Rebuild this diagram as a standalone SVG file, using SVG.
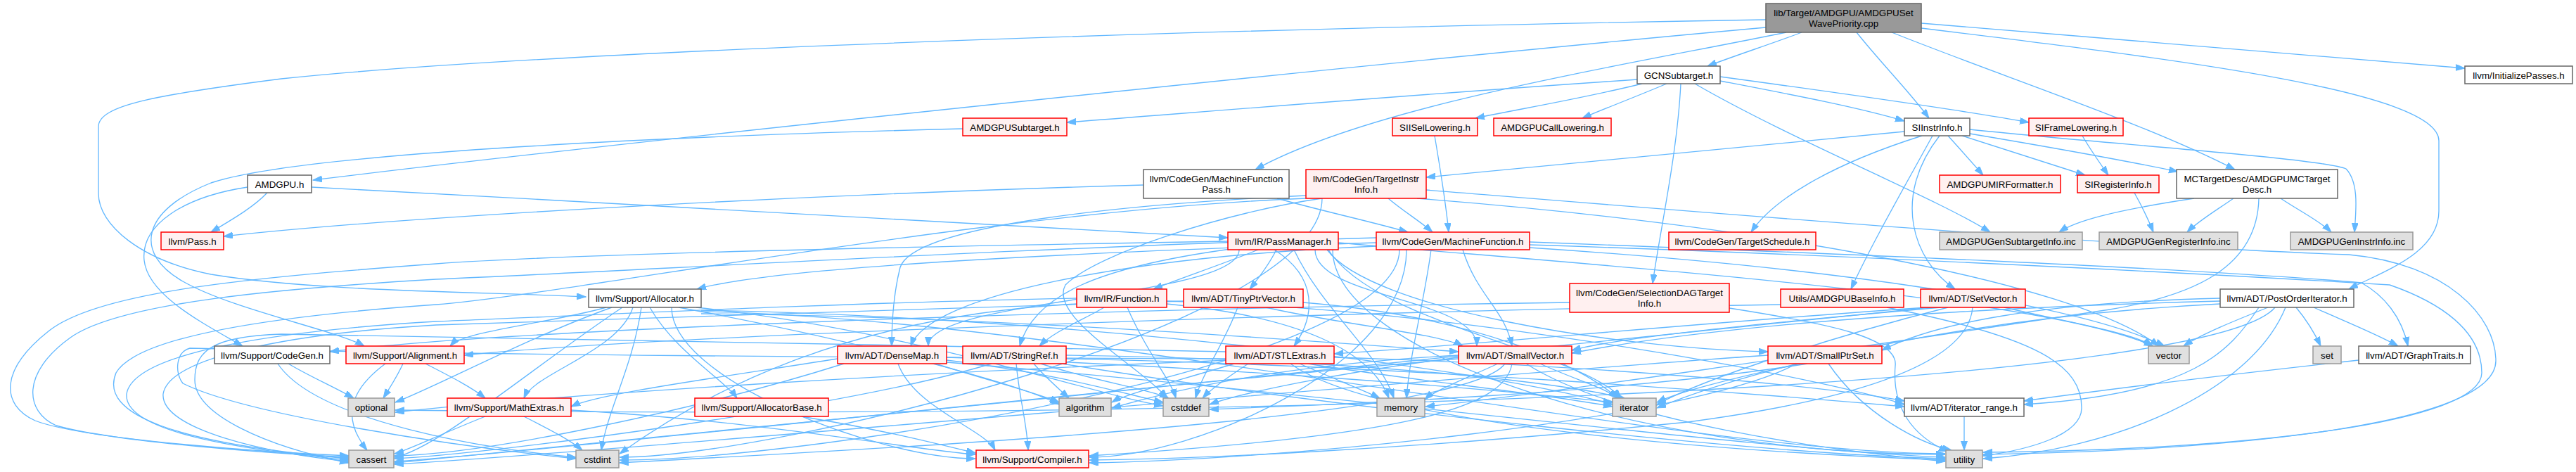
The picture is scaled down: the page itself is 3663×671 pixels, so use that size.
<svg xmlns="http://www.w3.org/2000/svg" width="3663" height="671" viewBox="0 0 3663 671">
<style>
.e{fill:none;stroke:#63b8ff;stroke-width:1.33;marker-end:url(#arr)}
.n rect{stroke-width:1.5}
.w rect{fill:#ffffff;stroke:#666666}
.r rect{fill:#fff0f0;stroke:#ff0000}
.g rect{fill:#e0e0e0;stroke:#999999}
.t rect{fill:#999999;stroke:#666666}
text{font-family:"Liberation Sans",Arial,Helvetica,sans-serif;font-size:13.33px;text-anchor:middle;fill:#000000}
</style>
<defs>
<marker id="arr" markerWidth="14" markerHeight="10" refX="13" refY="4.5" orient="auto" markerUnits="userSpaceOnUse">
<path d="M0,0 L13,4.5 L0,9 z" fill="#63b8ff" stroke="#63b8ff" stroke-width="1"/>
</marker>
</defs>
<rect x="0" y="0" width="3663" height="671" fill="#ffffff"/>
<g id="edges">
<path class="e" d="M2511,39 C2000,85 900,200 445,256"/>
<path class="e" d="M2562,46 C2520,62 2470,78 2428,94"/>
<path class="e" d="M2640,46 C2675,90 2715,130 2743,168"/>
<path class="e" d="M2690,46 C2850,110 3050,175 3178,241"/>
<path class="e" d="M2732,33 C3000,55 3300,80 3505,97"/>
<path class="e" d="M2732,40 C3100,85 3468,130 3468,200 L3468,300 C3468,360 3390,385 3340,411"/>
<path class="e" d="M2540,46 C2300,95 1950,150 1785,241"/>
<path class="e" d="M2511,28 C1500,45 700,80 400,112 C220,135 140,150 140,180 L140,275 C140,320 200,370 300,390 C450,415 700,415 833,422"/>
<path class="e" d="M380,274 C360,295 330,312 300,330"/>
<path class="e" d="M352,266 C260,280 200,320 205,370 C210,420 290,460 345,492"/>
<path class="e" d="M443,266 C900,290 1400,320 1746,338"/>
<path class="e" d="M2328,113 C2000,135 1700,160 1517,174"/>
<path class="e" d="M2335,119 C2250,140 2160,155 2098,168"/>
<path class="e" d="M2370,119 C2320,140 2280,155 2250,168"/>
<path class="e" d="M2446,115 C2550,135 2640,152 2708,172"/>
<path class="e" d="M2446,109 C2600,130 2780,155 2885,174"/>
<path class="e" d="M2410,119 C2550,200 2750,280 2830,330"/>
<path class="e" d="M2390,119 C2385,220 2360,330 2350,403"/>
<path class="e" d="M1369,183 C900,195 420,220 300,260 C200,300 190,360 260,400 C330,440 480,470 518,492"/>
<path class="e" d="M2040,193 C2048,240 2056,290 2060,330"/>
<path class="e" d="M2708,187 C2400,215 2200,235 2028,252"/>
<path class="e" d="M2733,193 C2600,235 2520,285 2490,330"/>
<path class="e" d="M2748,193 C2700,280 2660,350 2632,411"/>
<path class="e" d="M2758,193 C2690,280 2720,370 2780,411"/>
<path class="e" d="M2770,193 C2790,215 2805,232 2820,249"/>
<path class="e" d="M2790,193 C2860,215 2920,235 2965,249"/>
<path class="e" d="M2801,190 C2920,210 3020,228 3097,244"/>
<path class="e" d="M2801,184 C3000,205 3300,225 3336,240 C3355,260 3350,300 3348,330"/>
<path class="e" d="M2961,193 C2972,212 2986,232 2998,249"/>
<path class="e" d="M3035,274 C3045,292 3055,312 3062,330"/>
<path class="e" d="M1816,282 C1880,300 1950,315 2002,330"/>
<path class="e" d="M1626,263 C1200,275 600,305 318,336"/>
<path class="e" d="M1974,282 C1995,300 2020,315 2037,330"/>
<path class="e" d="M1857,278 C1600,290 1300,320 1280,380 C1270,420 1268,460 1268,492"/>
<path class="e" d="M1857,282 C1400,300 800,420 620,433 C450,445 200,470 165,530 C140,590 250,630 496,652"/>
<path class="e" d="M1880,282 C1750,300 1560,360 1515,405 C1490,450 1620,520 1660,566"/>
<path class="e" d="M1880,282 C1880,460 1100,650 881,650"/>
<path class="e" d="M2028,270 C2400,300 3000,350 3340,362 C3480,375 3549,450 3549,513 C3549,600 3200,640 2820,646"/>
<path class="e" d="M2015,282 C2500,320 2950,400 3070,492"/>
<path class="e" d="M1957,350 C1600,365 1320,420 1295,492"/>
<path class="e" d="M2175,344 C2600,360 3100,380 3358,402 C3390,420 3415,450 3424,492"/>
<path class="e" d="M2080,355 C2100,420 2140,440 2150,492"/>
<path class="e" d="M1957,345 C1500,360 1100,380 991,411"/>
<path class="e" d="M2000,355 C2000,520 1700,650 1549,650"/>
<path class="e" d="M1957,338 C1500,350 900,385 620,397 C400,410 170,430 100,480 C30,530 35,585 80,605 C160,628 390,645 496,650"/>
<path class="e" d="M1990,355 C1990,520 1150,654 881,654"/>
<path class="e" d="M2035,355 C2025,430 2005,500 2000,566"/>
<path class="e" d="M2175,348 C2550,360 3070,385 3398,405 C3470,430 3529,470 3529,530 C3529,600 3200,640 2820,643"/>
<path class="e" d="M2175,352 C2600,380 2950,430 3078,492"/>
<path class="e" d="M1762,355 C1762,424 1320,424 1320,492"/>
<path class="e" d="M1812,355 C1875,395 1870,450 1840,492"/>
<path class="e" d="M1887,355 C1950,440 2300,495 2514,500"/>
<path class="e" d="M1870,355 C1870,424 2100,424 2100,492"/>
<path class="e" d="M1750,354 C1560,380 1470,420 1450,492"/>
<path class="e" d="M1815,355 C1805,375 1790,395 1777,411"/>
<path class="e" d="M1789,355 C1740,375 1680,395 1640,411"/>
<path class="e" d="M1746,343 C1200,352 800,362 620,375 C350,395 140,415 70,470 C0,525 0,575 50,598 C120,625 380,643 496,648"/>
<path class="e" d="M1887,352 C1950,460 2250,500 2305,566"/>
<path class="e" d="M1840,355 C1880,440 1960,500 1982,566"/>
<path class="e" d="M1895,355 C1895,500 2330,646 2766,646"/>
<path class="e" d="M1903,345 C2300,380 2900,420 3062,492"/>
<path class="e" d="M862,437 C780,460 660,470 640,492"/>
<path class="e" d="M900,437 C880,500 760,530 745,566"/>
<path class="e" d="M912,437 C900,520 865,580 855,640"/>
<path class="e" d="M924,437 C960,500 1030,540 1048,566"/>
<path class="e" d="M997,446 C1400,450 1800,480 2074,500"/>
<path class="e" d="M955,437 C955,540 1250,652 1387,652"/>
<path class="e" d="M965,437 C1200,480 1450,545 1506,575"/>
<path class="e" d="M885,437 C760,520 620,640 561,650"/>
<path class="e" d="M990,437 C1300,470 1550,560 1654,577"/>
<path class="e" d="M997,441 C1500,450 2100,520 2293,575"/>
<path class="e" d="M870,437 C750,480 620,550 562,572"/>
<path class="e" d="M997,443 C1500,450 2400,645 2766,645"/>
<path class="e" d="M1570,437 C1540,455 1500,470 1478,492"/>
<path class="e" d="M1603,437 C1630,500 1665,540 1672,566"/>
<path class="e" d="M1531,424 C1200,430 800,450 620,457 C400,470 190,500 180,560 C175,615 350,640 496,654"/>
<path class="e" d="M1531,432 C1200,450 1000,560 881,645"/>
<path class="e" d="M1659,428 C2100,440 2600,540 2708,575"/>
<path class="e" d="M1659,432 C1850,450 1950,500 1975,566"/>
<path class="e" d="M1800,437 C1900,460 2050,475 2080,492"/>
<path class="e" d="M1760,437 C1740,490 1710,530 1700,566"/>
<path class="e" d="M1853,430 C2100,450 2250,520 2300,566"/>
<path class="e" d="M1683,428 C1300,440 800,455 620,462 C400,475 240,510 232,560 C228,610 380,645 496,656"/>
<path class="e" d="M2232,430 C1500,440 700,470 469,500"/>
<path class="e" d="M2459,438 C2600,460 2700,480 2695,520 C2690,580 2720,620 2770,642"/>
<path class="e" d="M2532,433 C1800,445 900,480 660,505"/>
<path class="e" d="M2683,437 C2900,480 2960,520 2960,580 C2960,620 2880,640 2820,648"/>
<path class="e" d="M2740,437 C2400,460 2100,490 1897,503"/>
<path class="e" d="M2760,437 C2500,460 2300,480 2235,498"/>
<path class="e" d="M2805,437 C2800,500 2700,560 2400,600 C2000,640 1700,652 1549,654"/>
<path class="e" d="M2745,437 C2300,480 1200,600 561,658"/>
<path class="e" d="M2770,437 C2600,480 2420,540 2356,575"/>
<path class="e" d="M2850,437 C2950,460 3040,475 3060,492"/>
<path class="e" d="M3290,437 C3330,455 3380,475 3410,492"/>
<path class="e" d="M3265,437 C3280,455 3292,475 3300,492"/>
<path class="e" d="M3225,437 C3180,455 3130,475 3105,492"/>
<path class="e" d="M3157,424 C2900,430 2750,460 2676,498"/>
<path class="e" d="M3157,428 C2700,440 2400,470 2235,502"/>
<path class="e" d="M3212,437 C3170,500 3120,560 2878,575"/>
<path class="e" d="M3157,432 C2800,450 2500,520 2356,580"/>
<path class="e" d="M3235,437 C3150,540 2000,600 562,583"/>
<path class="e" d="M3250,437 C3200,560 3000,640 2820,652"/>
<path class="e" d="M573,517 C565,535 555,550 545,566"/>
<path class="e" d="M548,517 C490,560 490,600 522,640"/>
<path class="e" d="M605,517 C640,535 670,550 690,566"/>
<path class="e" d="M1277,517 C1300,580 1400,610 1415,640"/>
<path class="e" d="M1191,510 C1000,540 850,560 812,578"/>
<path class="e" d="M1330,517 C1420,545 1480,560 1506,572"/>
<path class="e" d="M1200,517 C1000,580 700,645 561,648"/>
<path class="e" d="M1346,512 C1500,530 1600,560 1654,572"/>
<path class="e" d="M1346,508 C1700,520 2100,550 2293,572"/>
<path class="e" d="M1346,515 C1900,560 2500,640 2766,650"/>
<path class="e" d="M1470,517 C1485,535 1505,552 1520,566"/>
<path class="e" d="M1445,517 C1450,570 1460,600 1462,640"/>
<path class="e" d="M1480,517 C1550,540 1640,555 1662,566"/>
<path class="e" d="M1410,517 C1200,580 700,645 561,652"/>
<path class="e" d="M1516,510 C2000,520 2500,560 2708,578"/>
<path class="e" d="M1516,505 C1900,510 2200,540 2310,566"/>
<path class="e" d="M1510,517 C1900,580 2500,645 2766,652"/>
<path class="e" d="M1897,508 C2300,520 2600,550 2708,570"/>
<path class="e" d="M1755,517 C1680,540 1600,560 1581,572"/>
<path class="e" d="M1743,500 C1300,492 800,480 400,475 C300,478 277,500 277,540 C277,590 380,635 496,658"/>
<path class="e" d="M1775,517 C1740,540 1720,555 1710,566"/>
<path class="e" d="M1743,510 C1200,508 700,505 270,495 C250,500 248,530 260,545 C350,590 650,635 819,652"/>
<path class="e" d="M1860,517 C2000,540 2200,560 2293,578"/>
<path class="e" d="M1848,517 C1900,540 1940,555 1962,566"/>
<path class="e" d="M1748,512 C1300,530 800,560 562,586"/>
<path class="e" d="M1835,517 C1950,600 2400,640 2766,654"/>
<path class="e" d="M2150,517 C2140,580 2000,620 1549,648"/>
<path class="e" d="M2074,505 C1800,520 1650,560 1581,580"/>
<path class="e" d="M2074,510 C1500,560 800,640 561,656"/>
<path class="e" d="M2074,508 C1900,530 1760,560 1720,575"/>
<path class="e" d="M2140,517 C2080,600 1200,640 881,658"/>
<path class="e" d="M2190,517 C2240,540 2280,550 2300,566"/>
<path class="e" d="M2130,517 C2080,540 2040,555 2026,568"/>
<path class="e" d="M2170,517 C2300,600 2600,640 2766,656"/>
<path class="e" d="M2555,517 C2400,600 1800,655 1549,658"/>
<path class="e" d="M2514,505 C2000,540 900,640 561,660"/>
<path class="e" d="M2570,517 C2300,560 1900,575 1720,582"/>
<path class="e" d="M2560,517 C2450,540 2380,560 2356,572"/>
<path class="e" d="M2600,517 C2650,590 2730,630 2775,640"/>
<path class="e" d="M3354,512 C3100,540 2950,560 2878,570"/>
<path class="e" d="M745,592 C780,610 810,625 828,640"/>
<path class="e" d="M690,592 C620,620 580,640 561,645"/>
<path class="e" d="M812,583 C1100,600 1300,640 1387,646"/>
<path class="e" d="M1140,592 C1250,610 1330,630 1387,644"/>
<path class="e" d="M2793,592 L2793,640"/>
<path class="e" d="M410,517 C440,535 475,550 503,566"/>
<path class="e" d="M395,517 C450,600 700,640 819,650"/>
<path class="e" d="M3120,282 C3000,300 2950,315 2928,330"/>
<path class="e" d="M3176,282 C3150,300 3125,315 3110,330"/>
<path class="e" d="M3243,282 C3270,300 3300,315 3315,330"/>
<path class="e" d="M3212,282 C3210,380 3120,420 3000,440 C2600,500 2200,560 2027,578"/>
</g>
<g id="n1" class="n t"><rect x="2511" y="5" width="221" height="41"/><text x="2621.5" y="23">lib/Target/AMDGPU/AMDGPUSet</text><text x="2621.5" y="38">WavePriority.cpp</text></g>
<g id="n2" class="n w"><rect x="352" y="249" width="91" height="25"/><text x="397.5" y="266.5">AMDGPU.h</text></g>
<g id="n3" class="n r"><rect x="229" y="330" width="89" height="25"/><text x="273.5" y="347.5">llvm/Pass.h</text></g>
<g id="n4" class="n r"><rect x="1746" y="330" width="157" height="25"/><text x="1824.5" y="347.5">llvm/IR/PassManager.h</text></g>
<g id="n5" class="n w"><rect x="305" y="492" width="164" height="25"/><text x="387" y="509.5">llvm/Support/CodeGen.h</text></g>
<g id="n6" class="n w"><rect x="2328" y="94" width="118" height="25"/><text x="2387" y="111.5">GCNSubtarget.h</text></g>
<g id="n7" class="n r"><rect x="1369" y="168" width="148" height="25"/><text x="1443" y="185.5">AMDGPUSubtarget.h</text></g>
<g id="n8" class="n r"><rect x="1980" y="168" width="121" height="25"/><text x="2040.5" y="185.5">SIISelLowering.h</text></g>
<g id="n9" class="n r"><rect x="2124" y="168" width="167" height="25"/><text x="2207.5" y="185.5">AMDGPUCallLowering.h</text></g>
<g id="n10" class="n w"><rect x="2708" y="168" width="93" height="25"/><text x="2754.5" y="185.5">SIInstrInfo.h</text></g>
<g id="n11" class="n r"><rect x="2885" y="168" width="134" height="25"/><text x="2952" y="185.5">SIFrameLowering.h</text></g>
<g id="n12" class="n w"><rect x="1626" y="241" width="207" height="41"/><text x="1729.5" y="259">llvm/CodeGen/MachineFunction</text><text x="1729.5" y="274">Pass.h</text></g>
<g id="n13" class="n r"><rect x="1857" y="241" width="171" height="41"/><text x="1942.5" y="259">llvm/CodeGen/TargetInstr</text><text x="1942.5" y="274">Info.h</text></g>
<g id="n14" class="n r"><rect x="2758" y="249" width="172" height="25"/><text x="2844" y="266.5">AMDGPUMIRFormatter.h</text></g>
<g id="n15" class="n r"><rect x="2954" y="249" width="116" height="25"/><text x="3012" y="266.5">SIRegisterInfo.h</text></g>
<g id="n16" class="n w"><rect x="3095" y="241" width="229" height="41"/><text x="3209.5" y="259">MCTargetDesc/AMDGPUMCTarget</text><text x="3209.5" y="274">Desc.h</text></g>
<g id="n17" class="n w"><rect x="3505" y="94" width="153" height="25"/><text x="3581.5" y="111.5">llvm/InitializePasses.h</text></g>
<g id="n18" class="n r"><rect x="1957" y="330" width="218" height="25"/><text x="2066" y="347.5">llvm/CodeGen/MachineFunction.h</text></g>
<g id="n19" class="n r"><rect x="2373" y="330" width="209" height="25"/><text x="2477.5" y="347.5">llvm/CodeGen/TargetSchedule.h</text></g>
<g id="n20" class="n g"><rect x="2758" y="330" width="203" height="25"/><text x="2859.5" y="347.5">AMDGPUGenSubtargetInfo.inc</text></g>
<g id="n21" class="n g"><rect x="2985" y="330" width="197" height="25"/><text x="3083.5" y="347.5">AMDGPUGenRegisterInfo.inc</text></g>
<g id="n22" class="n g"><rect x="3257" y="330" width="174" height="25"/><text x="3344" y="347.5">AMDGPUGenInstrInfo.inc</text></g>
<g id="n23" class="n w"><rect x="837" y="411" width="160" height="26"/><text x="917" y="429">llvm/Support/Allocator.h</text></g>
<g id="n24" class="n r"><rect x="1531" y="411" width="128" height="26"/><text x="1595" y="429">llvm/IR/Function.h</text></g>
<g id="n25" class="n r"><rect x="1683" y="411" width="170" height="26"/><text x="1768" y="429">llvm/ADT/TinyPtrVector.h</text></g>
<g id="n26" class="n r"><rect x="2232" y="403" width="227" height="41"/><text x="2345.5" y="421">llvm/CodeGen/SelectionDAGTarget</text><text x="2345.5" y="436">Info.h</text></g>
<g id="n27" class="n r"><rect x="2532" y="411" width="175" height="26"/><text x="2619.5" y="429">Utils/AMDGPUBaseInfo.h</text></g>
<g id="n28" class="n r"><rect x="2731" y="411" width="149" height="26"/><text x="2805.5" y="429">llvm/ADT/SetVector.h</text></g>
<g id="n29" class="n w"><rect x="3157" y="411" width="190" height="26"/><text x="3252" y="429">llvm/ADT/PostOrderIterator.h</text></g>
<g id="n30" class="n r"><rect x="492" y="492" width="168" height="25"/><text x="576" y="509.5">llvm/Support/Alignment.h</text></g>
<g id="n31" class="n r"><rect x="1191" y="492" width="155" height="25"/><text x="1268.5" y="509.5">llvm/ADT/DenseMap.h</text></g>
<g id="n32" class="n r"><rect x="1369" y="492" width="147" height="25"/><text x="1442.5" y="509.5">llvm/ADT/StringRef.h</text></g>
<g id="n33" class="n r"><rect x="1743" y="492" width="154" height="25"/><text x="1820" y="509.5">llvm/ADT/STLExtras.h</text></g>
<g id="n34" class="n r"><rect x="2074" y="492" width="161" height="25"/><text x="2154.5" y="509.5">llvm/ADT/SmallVector.h</text></g>
<g id="n35" class="n r"><rect x="2514" y="492" width="162" height="25"/><text x="2595" y="509.5">llvm/ADT/SmallPtrSet.h</text></g>
<g id="n36" class="n g"><rect x="3055" y="492" width="58" height="25"/><text x="3084" y="509.5">vector</text></g>
<g id="n37" class="n g"><rect x="3289" y="492" width="40" height="25"/><text x="3309" y="509.5">set</text></g>
<g id="n38" class="n w"><rect x="3354" y="492" width="159" height="25"/><text x="3433.5" y="509.5">llvm/ADT/GraphTraits.h</text></g>
<g id="n39" class="n g"><rect x="495" y="566" width="66" height="26"/><text x="528" y="584">optional</text></g>
<g id="n40" class="n r"><rect x="636" y="566" width="176" height="26"/><text x="724" y="584">llvm/Support/MathExtras.h</text></g>
<g id="n41" class="n r"><rect x="988" y="566" width="190" height="26"/><text x="1083" y="584">llvm/Support/AllocatorBase.h</text></g>
<g id="n42" class="n g"><rect x="1506" y="566" width="74" height="26"/><text x="1543" y="584">algorithm</text></g>
<g id="n43" class="n g"><rect x="1654" y="566" width="65" height="26"/><text x="1686.5" y="584">cstddef</text></g>
<g id="n44" class="n g"><rect x="1958" y="566" width="68" height="26"/><text x="1992" y="584">memory</text></g>
<g id="n45" class="n g"><rect x="2293" y="566" width="62" height="26"/><text x="2324" y="584">iterator</text></g>
<g id="n46" class="n w"><rect x="2708" y="566" width="170" height="26"/><text x="2793" y="584">llvm/ADT/iterator_range.h</text></g>
<g id="n47" class="n g"><rect x="496" y="640" width="64" height="25"/><text x="528" y="657.5">cassert</text></g>
<g id="n48" class="n g"><rect x="819" y="640" width="61" height="25"/><text x="849.5" y="657.5">cstdint</text></g>
<g id="n49" class="n r"><rect x="1388" y="640" width="160" height="25"/><text x="1468" y="657.5">llvm/Support/Compiler.h</text></g>
<g id="n50" class="n g"><rect x="2767" y="640" width="52" height="25"/><text x="2793" y="657.5">utility</text></g>
</svg>
